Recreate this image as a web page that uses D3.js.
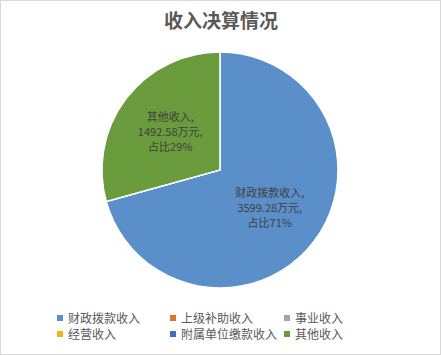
<!DOCTYPE html>
<meta charset="utf-8">
<style>
body { margin: 0; background: #fff; }
text { font-family: "Noto Sans CJK SC", "Microsoft YaHei", sans-serif; }
</style>
<body>
<div id="chart"></div>
<script src="https://d3js.org/d3.v7.min.js"></script>
<script>
var categories = ["财政拨款收入", "上级补助收入", "事业收入", "经营收入", "附属单位缴款收入", "其他收入"];
var values = [3599.28, 0, 0, 0, 0, 1492.58];
var percents = ["71%", "", "", "", "", "29%"];
var colors = ["#5B8FC9", "#DD7535", "#A5A5A5", "#F2B418", "#3F6DBF", "#6A9B3D"];

var width = 441, height = 355;
var cx = 220, cy = 170, radius = 118;

var svg = d3.select("#chart").append("svg")
  .attr("width", width)
  .attr("height", height);

svg.append("rect")
  .attr("x", 0.5).attr("y", 0.5)
  .attr("width", width - 1).attr("height", height - 1)
  .attr("fill", "#fff")
  .attr("stroke", "#d9d9d9");

svg.append("text")
  .attr("x", 221).attr("y", 28)
  .attr("text-anchor", "middle")
  .attr("font-size", "19px")
  .attr("font-weight", 600)
  .attr("fill", "#595959")
  .text("收入决算情况");

var data = categories.map(function(c, i) {
  return {name: c, value: values[i], pct: percents[i], color: colors[i]};
});

var pie = d3.pie().sort(null).value(function(d) { return d.value; });
var arc = d3.arc().innerRadius(0).outerRadius(radius);

var g = svg.append("g").attr("transform", "translate(" + cx + "," + cy + ")");

var arcs = pie(data).filter(function(d) { return d.data.value > 0; });

g.selectAll("path")
  .data(arcs)
  .enter()
  .append("path")
  .attr("d", arc)
  .attr("fill", function(d) { return d.data.color; })
  .attr("stroke", "#fff")
  .attr("stroke-width", 1.5);

// label positions inside slices
var labelArc = d3.arc().innerRadius(radius * 0.53).outerRadius(radius * 0.53);

arcs.forEach(function(d) {
  var c = labelArc.centroid(d);
  var lines = [d.data.name + ",", d3.format(".2f")(d.data.value) + "万元,", "占比" + d.data.pct];
  var t = g.append("text")
    .attr("text-anchor", "middle")
    .attr("font-size", "11px")
    .attr("fill", "#404040");
  lines.forEach(function(l, k) {
    t.append("tspan")
      .attr("x", c[0])
      .attr("y", c[1] + (k - 1) * 15 + 4)
      .text(l);
  });
});

// legend
var legendX = [57, 170, 284];
var legendY = [318, 334];
var legend = svg.selectAll(".legend")
  .data(data)
  .enter()
  .append("g")
  .attr("transform", function(d, i) {
    return "translate(" + legendX[i % 3] + "," + legendY[Math.floor(i / 3)] + ")";
  });

legend.append("rect")
  .attr("x", 0).attr("y", -3)
  .attr("width", 6).attr("height", 6)
  .attr("fill", function(d) { return d.color; });

legend.append("text")
  .attr("x", 11).attr("y", 4.5)
  .attr("font-size", "12px")
  .attr("fill", "#595959")
  .text(function(d) { return d.name; });
</script>
</body>
